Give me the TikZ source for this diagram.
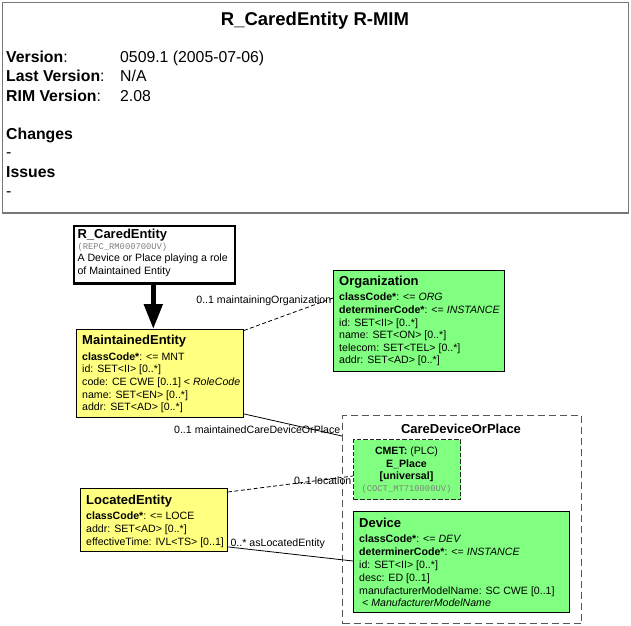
\documentclass[tikz,border=0pt]{standalone}
\usepackage{fontspec}
\setmainfont{Liberation Sans}
\newfontfamily\monofnt{Liberation Mono}
\usetikzlibrary{arrows.meta,calc}
\definecolor{rmimyellow}{HTML}{FFFF80}
\definecolor{rmimgreen}{HTML}{80FF80}
\definecolor{framegray}{HTML}{777777}
\definecolor{cdpgray}{HTML}{555555}
\definecolor{codegray}{HTML}{808080}
\newcommand{\fsz}[2]{\fontsize{#1}{#2}\selectfont}
\newcommand{\ttl}[1]{{\fsz{13}{15}\bfseries\rule{0pt}{10pt}#1}}
\begin{document}
\begin{tikzpicture}[x=1pt,y=-1pt,
  classbox/.style={draw=black, line width=0.9pt, anchor=north west, inner sep=0pt},
  boxtext/.style={anchor=north west, inner sep=0pt, align=left, font=\fsz{10.6}{12.6}},
  hdrlabel/.style={anchor=base west, inner sep=0pt, font=\fsz{15.8}{18}\bfseries},
  hdrvalue/.style={anchor=base west, inner sep=0pt, font=\fsz{15.8}{18}},
  assoc/.style={line width=0.8pt, black},
  dashedassoc/.style={assoc, dash pattern=on 4pt off 2.5pt},
  assoclabel/.style={inner sep=0pt, font=\fsz{10.6}{12.6}}
]
\useasboundingbox (0,0) rectangle (631,625);
\fill[white] (0,0) rectangle (631,625);

% header frame
\node[draw=framegray, line width=1.6pt, anchor=north west, inner sep=0pt,
      minimum width=626pt, minimum height=210.5pt] (header) at (1.8,1.8) {};
\node[anchor=base, inner sep=0pt, font=\fsz{18.5}{21}\bfseries] (htitle) at (315,25) {R\_CaredEntity R-MIM};
\node[hdrlabel] (lver) at (6,62) {Version\textmd{:}};
\node[hdrvalue] (vver) at (120,62) {0509.1 (2005-07-06)};
\node[hdrlabel] (llast) at (6,81.5) {Last Version\textmd{:}};
\node[hdrvalue] (vlast) at (120,81.5) {N/A};
\node[hdrlabel] (lrim) at (6,101) {RIM Version\textmd{:}};
\node[hdrvalue] (vrim) at (120,101) {2.08};
\node[hdrlabel] (lchg) at (6,139) {Changes};
\node[hdrvalue] (vchg) at (6,157.5) {-};
\node[hdrlabel] (liss) at (6,177.5) {Issues};
\node[hdrvalue] (viss) at (6,196) {-};

% R_CaredEntity entry point
\node[draw=black, line width=2.5pt, anchor=north west, inner sep=0pt, fill=white,
      minimum width=161pt, minimum height=57.5pt] (rce) at (72.5,224.5) {};
\node[boxtext] (rcet) at (77.3,228) {\ttl{R\_CaredEntity}\\[-1.6pt]
  {\monofnt\fsz{8.8}{10}\color{codegray}(REPC\_RM000700UV)}\\[0pt]
  A Device or Place playing a role\\
  of Maintained Entity};

% MaintainedEntity
\node[classbox, fill=rmimyellow, minimum width=167pt, minimum height=88pt] (me) at (76,329) {};
\node[boxtext] (met) at (82,334.5) {\ttl{MaintainedEntity}\\[3pt]
  \textbf{classCode*}: <= MNT\\
  id: SET<II> [0..*]\\
  code: CE CWE [0..1] < \textit{RoleCode}\\
  name: SET<EN> [0..*]\\
  addr: SET<AD> [0..*]};

% Organization
\node[classbox, fill=rmimgreen, minimum width=171pt, minimum height=101pt] (org) at (333,270) {};
\node[boxtext] (orgt) at (339,275) {\ttl{Organization}\\[3pt]
  \textbf{classCode*}: <= \textit{ORG}\\
  \textbf{determinerCode*}: <= \textit{INSTANCE}\\
  id: SET<II> [0..*]\\
  name: SET<ON> [0..*]\\
  telecom: SET<TEL> [0..*]\\
  addr: SET<AD> [0..*]};

% LocatedEntity
\node[classbox, fill=rmimyellow, minimum width=147pt, minimum height=63pt] (le) at (80,488) {};
\node[boxtext] (let) at (86,494) {\ttl{LocatedEntity}\\[3pt]
  \textbf{classCode*}: <= LOCE\\
  addr: SET<AD> [0..*]\\
  effectiveTime: IVL<TS> [0..1]};

% CareDeviceOrPlace choice container
\node[draw=cdpgray, line width=1.3pt, dash pattern=on 7pt off 4pt, anchor=north west,
      inner sep=0pt, minimum width=239pt, minimum height=208pt] (cdp) at (342,415) {};
\node[anchor=base, inner sep=0pt, font=\fsz{13}{15}\bfseries] (cdpt) at (461,433) {CareDeviceOrPlace};

% CMET E_Place
\node[draw=black!85, line width=1.2pt, dash pattern=on 4.5pt off 2pt, fill=rmimgreen, anchor=north west,
      inner sep=0pt, minimum width=107pt, minimum height=60pt] (cmet) at (353,439) {};
\node[anchor=north, inner sep=0pt, align=center, font=\fsz{10.6}{12.3}] (cmett) at (406.5,446.7)
  {\rule{0pt}{8pt}\textbf{CMET:} (PLC)\\
   \textbf{E\_Place}\\
   \textbf{[universal]}\\[-0.6pt]
   {\monofnt\fsz{8.8}{10}\color{codegray}(COCT\_MT710000UV)}};

% Device
\node[classbox, fill=rmimgreen, minimum width=216pt, minimum height=101pt] (dev) at (353,511) {};
\node[boxtext, font=\fsz{10.6}{12.8}] (devt) at (359,517) {\ttl{Device}\\[2.8pt]
  \textbf{classCode*}: <= \textit{DEV}\\
  \textbf{determinerCode*}: <= \textit{INSTANCE}\\
  id: SET<II> [0..*]\\
  desc: ED [0..1]\\
  manufacturerModelName: SC CWE [0..1]\\
  \hspace{3pt}\textit{< ManufacturerModelName}};

% generalization arrow
\draw[line width=5pt, -{Triangle[length=25pt,width=18pt]}]
  ($(rce.south west)+(80.8,0)$) -- ($(me.north west)+(77.3,0)$);

% associations
\draw[dashedassoc] ($(me.north east)+(0,1.5)$) -- ($(org.north west)+(0,28)$);
\node[assoclabel, anchor=base east] (lmo) at ($(org.north west)+(-1.5,33.5)$) {0..1 maintainingOrganization};

\draw[assoc] ($(me.south east)+(0,-4)$) -- ($(cdp.north west)+(0,21)$);
\node[assoclabel, anchor=base east] (lmc) at ($(cdp.north west)+(-1.5,18)$) {0..1 maintainedCareDeviceOrPlace};

\draw[dashedassoc] ($(le.north east)+(0,4)$) -- ($(cmet.north west)+(0,37)$);
\node[assoclabel, anchor=base east] (lloc) at ($(cmet.north west)+(-1.5,45)$) {0..1 location};

\draw[assoc] ($(le.south east)+(0,-5)$) -- ($(dev.north west)+(0,50)$);
\node[assoclabel, anchor=base west] (lasle) at ($(le.south east)+(2.5,-5.5)$) {0..* asLocatedEntity};
\end{tikzpicture}
\end{document}
